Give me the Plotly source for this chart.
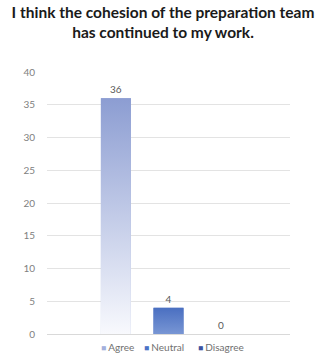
import plotly.graph_objects as go

title_text = "I think the cohesion of the preparation team<br>has continued to my work."
categories = ["Agree", "Neutral", "Disagree"]
values = [36, 4, 0]
top_colors = ["#8c9dd2", "#4a6fc1", "#3b4f9c"]
bottom_colors = ["#f8f9fd", "#7896d4", "#3b4f9c"]
legend_colors = ["#a3b0dc", "#4a72c6", "#3c52a0"]
y_ticks = list(range(0, 41, 5))

bar_width = 0.57
fig = go.Figure()
for i, (cat, v) in enumerate(zip(categories, values)):
    fig.add_trace(go.Bar(
        x=[i], y=[v], width=bar_width, name=cat,
        marker=dict(color=top_colors[i], line=dict(width=0)),
        text=[str(v)], textposition="outside", cliponaxis=False,
        textfont=dict(family="Lato", size=10, color="#595959"),
        showlegend=False, hoverinfo="skip"))
    if v > 0:
        x0, x1 = i - bar_width / 2, i + bar_width / 2
        fig.add_trace(go.Scatter(
            x=[x0, x1, x1, x0, x0], y=[0, 0, v, v, 0], mode="lines", fill="toself",
            line=dict(width=0),
            fillgradient=dict(type="vertical", colorscale=[[0, bottom_colors[i]], [1, top_colors[i]]]),
            showlegend=False, hoverinfo="skip"))

# compact legend (symbol + label), built from the category list
legend_x_px = [99, 142, 196]
plot_left, plot_w, plot_bottom, plot_h = 47, 243, 334, 262
for cat, col, px in zip(categories, legend_colors, legend_x_px):
    fig.add_annotation(
        text=f'<span style="color:{col};font-size:8.5px">■ </span>{cat}',
        xref="paper", yref="paper", x=(px - plot_left) / plot_w, y=-(347 - plot_bottom) / plot_h,
        xanchor="left", yanchor="middle", showarrow=False,
        font=dict(family="Lato", size=10, color="#707070"))

fig.update_layout(
    width=326, height=358,
    margin=dict(l=47, r=36, t=72, b=24, autoexpand=False),
    paper_bgcolor="white", plot_bgcolor="white",
    barmode="overlay", showlegend=False,
    title=dict(text=title_text, x=0.5, xanchor="center", y=0.95, yanchor="top",
               font=dict(family="Lato", size=15.5, color="#1a1a1a", weight="bold")),
    xaxis=dict(range=[-1.31, 3.31], showticklabels=False, showgrid=False, zeroline=False,
               showline=True, linecolor="#d9d9d9", linewidth=1, fixedrange=True),
    yaxis=dict(range=[0, 40], tickvals=y_ticks, showgrid=True, gridcolor="#e3e3e3", gridwidth=1,
               zeroline=False, showline=False, ticks="", ticklabelstandoff=11,
               tickfont=dict(family="Lato", size=10, color="#808080")),
    font=dict(family="Lato"),
)

fig.write_html("out.html")
